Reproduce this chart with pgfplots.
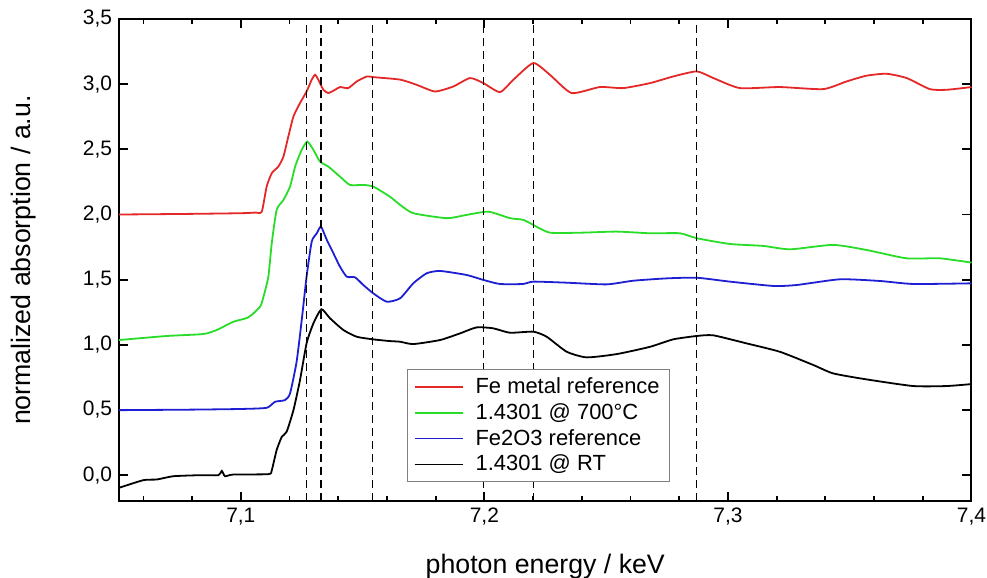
\documentclass[border=0pt]{standalone}
\usepackage{fontspec}
\setmainfont{Liberation Sans}
\usepackage{pgfplots}
\pgfplotsset{compat=1.18}

\definecolor{fered}{RGB}{228,40,40}
\definecolor{hotgreen}{RGB}{40,220,40}
\definecolor{oxblue}{RGB}{30,30,210}

\begin{document}
\begin{tikzpicture}
\begin{axis}[
    scale only axis,
    width=426bp, height=241bp,
    xmin=7.05, xmax=7.4,
    ymin=-0.2, ymax=3.5,
    xtick={7.1,7.2,7.3,7.4},
    minor xtick={7.06,7.08,7.12,7.14,7.16,7.18,7.22,7.24,7.26,7.28,7.32,7.34,7.36,7.38},
    ytick={0,0.5,1,1.5,2,2.5,3,3.5},
    tick align=inside,
    major tick length=4.5bp, minor tick length=2.5bp,
    axis line style={line width=1bp},
    every tick/.style={line width=0.9bp, black},
    tick label style={font=\fontsize{10.5}{12}\selectfont},
    xticklabel style={/pgf/number format/.cd, fixed, fixed zerofill, precision=1, use comma},
    yticklabel style={/pgf/number format/.cd, fixed, fixed zerofill, precision=1, use comma},
    /pgf/number format/assume math mode=true,
    xlabel={photon energy / keV},
    ylabel={normalized absorption / a.u.},
    x label style={at={(axis description cs:0.5,-0.135)}, anchor=center, font=\fontsize{13.4}{16}\selectfont},
    y label style={at={(axis description cs:-0.1115,0.5)}, rotate=0, anchor=center, font=\fontsize{13.4}{16}\selectfont},
    legend style={at={(rel axis cs:0.338,0.039)}, anchor=south west,
        draw=gray, line width=0.6bp, font=\fontsize{11}{13.5}\selectfont,
        inner xsep=3bp, inner ysep=2bp, row sep=-0.5bp},
    legend cell align=left,
    legend image code/.code={\draw[#1, line width=0.9bp] (0bp,0bp) -- (24bp,0bp); \path (28bp,0bp);},
    every axis plot/.append style={line width=0.9bp, smooth, tension=0.35},
    clip=false,
]

% Fe metal reference
\addplot[fered] coordinates {
(7.05,2.0) (7.08,2.005) (7.1,2.01) (7.106,2.015) (7.1086,2.022) (7.1106,2.214) (7.1127,2.317)
(7.1154,2.368) (7.1175,2.445) (7.1195,2.598) (7.1216,2.752) (7.1243,2.855)
(7.127,2.944) (7.1291,3.034) (7.1305,3.072) (7.1318,3.034) (7.1339,2.957)
(7.1359,2.932) (7.1387,2.957) (7.1407,2.978) (7.1441,2.970) (7.1476,3.021)
(7.1517,3.059) (7.1544,3.054) (7.1654,3.035) (7.1722,2.995) (7.1797,2.944)
(7.1872,2.982) (7.1941,3.047) (7.1996,3.008) (7.2064,2.939) (7.2119,3.034)
(7.2201,3.162) (7.2269,3.072) (7.2358,2.932) (7.2474,2.978) (7.257,2.970)
(7.268,3.008) (7.2775,3.059) (7.2872,3.098) (7.294,3.047) (7.3049,2.970)
(7.3213,2.978) (7.3391,2.962) (7.3487,3.021) (7.3569,3.065) (7.3651,3.080)
(7.3734,3.047) (7.3829,2.962) (7.3898,2.957) (7.4,2.978)
};
\addlegendentry{Fe metal reference}

% 1.4301 @ 700 C
\addplot[hotgreen] coordinates {
(7.05,1.037) (7.0696,1.068) (7.0846,1.083) (7.0901,1.114) (7.0969,1.177)
(7.1031,1.211) (7.1079,1.293) (7.1093,1.369) (7.1113,1.523) (7.1127,1.780)
(7.1147,2.035) (7.1175,2.112) (7.1202,2.214) (7.1223,2.368) (7.125,2.496)
(7.1273,2.560) (7.1298,2.496) (7.1325,2.406) (7.1359,2.368) (7.1407,2.291)
(7.1448,2.227) (7.1503,2.227) (7.1544,2.214) (7.1612,2.137) (7.1654,2.074)
(7.1708,2.010) (7.1845,1.972) (7.1927,1.997) (7.2016,2.022) (7.2105,1.972)
(7.216,1.959) (7.2201,1.920) (7.2269,1.861) (7.2406,1.861) (7.2543,1.869)
(7.268,1.856) (7.2803,1.856) (7.2872,1.818) (7.3008,1.774) (7.3145,1.759)
(7.3255,1.733) (7.3432,1.767) (7.3569,1.728) (7.3733,1.664) (7.387,1.664)
(7.4,1.631)
};
\addlegendentry{1.4301 @ 700°C}

% Fe2O3 reference
\addplot[oxblue] coordinates {
(7.05,0.499) (7.08,0.503) (7.1,0.508) (7.1106,0.517) (7.114,0.563) (7.1181,0.576)
(7.1202,0.627) (7.1229,0.870) (7.125,1.190) (7.127,1.523) (7.1291,1.792)
(7.1312,1.856) (7.1329,1.907) (7.1353,1.805) (7.138,1.703) (7.1407,1.600)
(7.1435,1.523) (7.1469,1.518) (7.1503,1.459) (7.1544,1.395) (7.1599,1.331)
(7.1654,1.357) (7.1708,1.472) (7.1763,1.549) (7.1818,1.567) (7.1927,1.536)
(7.1996,1.498) (7.2064,1.467) (7.216,1.467) (7.2201,1.485) (7.2338,1.477)
(7.2502,1.464) (7.2611,1.492) (7.2748,1.510) (7.2872,1.515) (7.3008,1.485)
(7.3186,1.452) (7.3282,1.459) (7.346,1.503) (7.3624,1.490) (7.3761,1.467)
(7.4,1.472)
};
\addlegendentry{Fe2O3 reference}

% 1.4301 @ RT
\addplot[black] coordinates {
(7.05,-0.097) (7.06,-0.038) (7.0655,-0.033) (7.0723,-0.008) (7.0833,0.0)
(7.0908,0.0) (7.0922,0.033) (7.0935,-0.008) (7.0969,0.005) (7.1113,0.008)
(7.1127,0.038) (7.1147,0.192) (7.1168,0.294) (7.1188,0.333) (7.1216,0.499)
(7.1243,0.730) (7.127,1.012) (7.1298,1.165) (7.1331,1.273) (7.1366,1.204)
(7.1421,1.114) (7.1476,1.062) (7.1544,1.042) (7.1612,1.029) (7.1654,1.024)
(7.1708,1.006) (7.1818,1.037) (7.19,1.088) (7.1968,1.134) (7.2036,1.127)
(7.2105,1.093) (7.2201,1.101) (7.2256,1.062) (7.2338,0.947) (7.242,0.904)
(7.2543,0.929) (7.268,0.985) (7.2775,1.042) (7.2872,1.068) (7.294,1.073)
(7.3077,1.011) (7.3213,0.947) (7.3351,0.845) (7.3432,0.781) (7.3569,0.735)
(7.3761,0.684) (7.3898,0.684) (7.4,0.699)
};
\addlegendentry{1.4301 @ RT}

% dashed markers
\addplot[black, line width=0.75bp, sharp plot, dash pattern=on 4bp off 2.5bp, forget plot] coordinates {(7.127,-0.2) (7.127,3.5)};
\addplot[black, line width=0.75bp, sharp plot, dash pattern=on 4bp off 2.5bp, forget plot] coordinates {(7.133,-0.2) (7.133,3.5)};
\addplot[black, line width=0.75bp, sharp plot, dash pattern=on 4bp off 2.5bp, forget plot] coordinates {(7.154,-0.2) (7.154,3.5)};
\addplot[black, line width=0.75bp, sharp plot, dash pattern=on 4bp off 2.5bp, forget plot] coordinates {(7.1996,-0.2) (7.1996,3.5)};
\addplot[black, line width=0.75bp, sharp plot, dash pattern=on 4bp off 2.5bp, forget plot] coordinates {(7.2201,-0.2) (7.2201,3.5)};
\addplot[black, line width=0.75bp, sharp plot, dash pattern=on 4bp off 2.5bp, forget plot] coordinates {(7.2871,-0.2) (7.2871,3.5)};

\end{axis}
\pgfresetboundingbox
\path ([shift={(-59.5bp,-38.2bp)}]current axis.south west) rectangle ([shift={(7.75bp,9.5bp)}]current axis.north east);
\end{tikzpicture}
\end{document}
